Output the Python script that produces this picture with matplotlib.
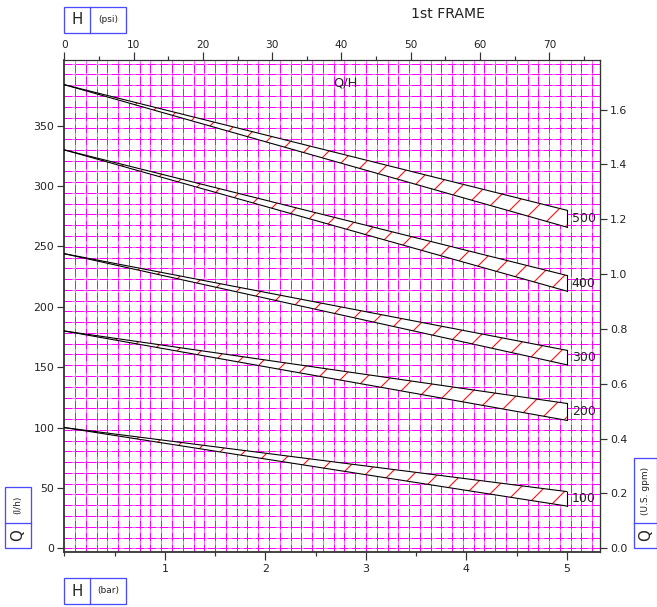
import numpy as np
import matplotlib
matplotlib.use("Agg")
import matplotlib.pyplot as plt
from matplotlib.patches import Rectangle
from matplotlib.lines import Line2D
from matplotlib.ticker import MultipleLocator, FormatStrFormatter

# Data: Q (l/h) against H (bar), one band per size
sizes = ["100", "200", "300", "400", "500"]
q_at_zero = [100, 180, 244, 330, 384]      # both edges meet at H = 0
q_end_upper = [47, 120, 164, 226, 280]     # upper edge at H = 5 bar
q_end_lower = [35, 106, 152, 213, 266]     # lower edge at H = 5 bar
h_end = 5.0

lph_ticks = [0, 50, 100, 150, 200, 250, 300, 350]
bar_ticks = [1, 2, 3, 4, 5]
psi_ticks = [0, 10, 20, 30, 40, 50, 60, 70]
gpm_ticks = [0.0, 0.2, 0.4, 0.6, 0.8, 1.0, 1.2, 1.4, 1.6]

BAR_TO_PSI = 14.5038
LPH_PER_GPM = 227.12

W, H = 657, 607
plt.rcParams["font.family"] = ["DejaVu Sans"]
plt.rcParams["hatch.linewidth"] = 1.1

fig = plt.figure(figsize=(W / 72, H / 72), dpi=72)
ax = fig.add_axes([64.3 / W, 1 - 551.7 / H, (600 - 64.3) / W, (551.7 - 59.7) / H])
ax.set_xlim(0, 5.33)
ax.set_ylim(-2.8, 404.7)

# paper-like grid: magenta dashes on a lighter magenta line
gx = np.arange(0, 5.3, 0.1072)[1:]
gy = np.arange(0, 404, 8.92)
ax.vlines(gx, -2.8, 404.7, colors="#ff66ff", lw=1, zorder=0, antialiased=False)
ax.hlines(gy, 0, 5.33, colors="#ff66ff", lw=1, zorder=0, antialiased=False)
ax.vlines(gx, -2.8, 404.7, colors="#ff00ff", lw=1, linestyles=(0, (7, 4)),
          zorder=0.1, antialiased=False)
ax.hlines(gy, 0, 5.33, colors="#ff00ff", lw=1, linestyles=(0, (7, 4)),
          zorder=0.1, antialiased=False)

# hatched bands
for name, q0, qu, ql in zip(sizes, q_at_zero, q_end_upper, q_end_lower):
    hx = np.array([0.0, h_end])
    upper = np.array([q0, qu])
    lower = np.array([q0, ql])
    ax.fill_between(hx, lower, upper, facecolor="white", edgecolor="#ff1010",
                    hatch="/", linewidth=0, zorder=2)
    ax.plot(hx, upper, color="black", lw=1.1, zorder=3)
    ax.plot(hx, lower, color="black", lw=1.1, zorder=3)
    ax.plot([h_end, h_end], [ql, qu], color="black", lw=1.1, zorder=3)
    ax.text(h_end + 0.05, (qu + ql) / 2, name, fontsize=12.5, ha="left",
            va="center", color="#222222", zorder=4)

ax.text(2.80, 385, "Q/H", fontsize=13, ha="center", va="center", color="#222222")

# main axes (bar / l/h)
ax.set_xticks(bar_ticks)
ax.xaxis.set_minor_locator(MultipleLocator(0.5))
ax.set_yticks(lph_ticks)
ax.tick_params(axis="x", which="major", length=8, width=1.2, labelsize=11,
               pad=4, colors="#333333", labelcolor="#222222")
ax.tick_params(axis="x", which="minor", length=4, width=1.2, colors="#333333")
ax.tick_params(axis="y", which="major", length=7, width=1.2, labelsize=11,
               pad=3, colors="#333333", labelcolor="#222222")
for side in ["left", "bottom"]:
    ax.spines[side].set_linewidth(1.8)
    ax.spines[side].set_color("#333333")
for side in ["top", "right"]:
    ax.spines[side].set_linewidth(1.0)
    ax.spines[side].set_color("#333333")

# top axis in psi
top = ax.secondary_xaxis("top", functions=(lambda b: b * BAR_TO_PSI,
                                           lambda p: p / BAR_TO_PSI))
top.set_xticks(psi_ticks)
top.xaxis.set_minor_locator(MultipleLocator(5))
top.tick_params(which="major", length=8, width=1.2, labelsize=10.5, pad=2,
                colors="#333333", labelcolor="#222222")
top.tick_params(which="minor", length=4, width=1.2, colors="#333333")
top.spines["top"].set_linewidth(1.2)
top.spines["top"].set_color("#222222")

# right axis in US gpm
right = ax.secondary_yaxis("right", functions=(lambda q: q / LPH_PER_GPM,
                                               lambda g: g * LPH_PER_GPM))
right.set_yticks(gpm_ticks)
right.yaxis.set_major_formatter(FormatStrFormatter("%.1f"))
right.tick_params(length=7, width=1.2, labelsize=11, pad=3,
                  colors="#333333", labelcolor="#222222")
right.spines["right"].set_linewidth(1.4)
right.spines["right"].set_color("#555555")

# unit boxes around the chart
BLUE = "#4a4aff"


def fig_rect(x0, y0, x1, y1):
    fig.add_artist(Rectangle((x0 / W, 1 - y1 / H), (x1 - x0) / W, (y1 - y0) / H,
                             transform=fig.transFigure, fill=False,
                             edgecolor=BLUE, lw=1.3))


def fig_line(xs, ys):
    fig.add_artist(Line2D([x / W for x in xs], [1 - y / H for y in ys],
                          transform=fig.transFigure, color=BLUE, lw=1.3))


def fig_text(x, y, s, size, rot=0):
    fig.text(x / W, 1 - y / H, s, fontsize=size, rotation=rot,
             ha="center", va="center", color="#222222")


def hbox(x0, y0, x1, y1, split, big, small):
    fig_rect(x0, y0, x1, y1)
    fig_line([split, split], [y0, y1])
    fig_text((x0 + split) / 2, (y0 + y1) / 2, big, 15)
    fig_text((split + x1) / 2, (y0 + y1) / 2, small, 9)


def vbox(x0, y0, x1, y1, split, big, small):
    fig_rect(x0, y0, x1, y1)
    fig_line([x0, x1], [split, split])
    fig_text((x0 + x1) / 2, (split + y1) / 2, big, 15, rot=90)
    fig_text((x0 + x1) / 2, (y0 + split) / 2, small, 9, rot=90)


hbox(64, 7, 126, 33, 90, "H", "(psi)")
hbox(64, 578, 126, 604, 90, "H", "(bar)")
vbox(5, 487, 31, 548, 523, "Q", "(l/h)")
vbox(634, 458, 656.5, 548, 523, "Q", "(U.S. gpm)")

fig_text(448, 14, "1st FRAME", 14)

fig.savefig("out.png", dpi=72)
